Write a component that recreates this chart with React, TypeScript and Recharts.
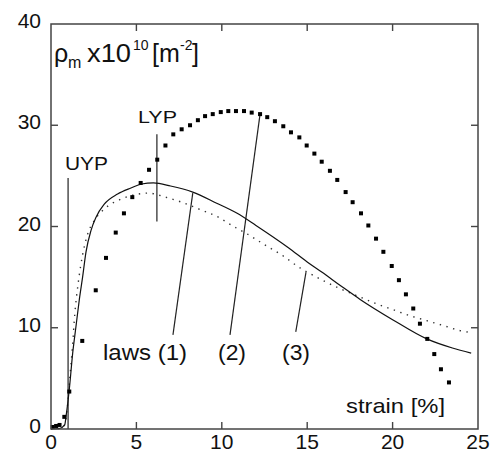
import React from 'react';
import { ComposedChart, Line, Scatter, XAxis, YAxis, ReferenceLine } from 'recharts';

// law (1): solid curve
const law1Strain = [0, 0.5, 0.8, 0.9, 1.07, 1.27, 1.46, 1.66, 1.85, 2.05, 2.34, 2.63, 3.12, 3.9, 4.68, 5.3, 6.0, 7.0, 8.3, 9.7, 10.9, 12.0, 13.9, 15.0, 15.85, 17.0, 18.1, 20.0, 22.0, 23.5, 24.6];
const law1Rho = [0, 0.05, 0.4, 1.5, 3.9, 7.5, 10.1, 12.8, 15.0, 17.5, 19.6, 20.9, 22.2, 23.2, 23.8, 24.2, 24.3, 24.0, 23.4, 22.3, 21.3, 20.1, 17.9, 16.5, 15.5, 14.1, 12.8, 10.8, 8.9, 8.0, 7.5];

// law (3): dotted curve
const law3Strain = [0, 0.5, 0.8, 0.95, 1.1, 1.25, 1.4, 1.6, 1.85, 2.1, 2.54, 3.1, 4.1, 5.1, 5.7, 6.7, 7.65, 8.7, 9.7, 10.7, 11.65, 12.5, 13.5, 14.5, 15.0, 16.0, 17.0, 18.0, 19.0, 20.0, 21.0, 22.0, 23.0, 24.0, 24.7];
const law3Rho = [0, 0.05, 0.4, 2.0, 5.0, 8.0, 11.5, 14.5, 17.2, 19.0, 20.6, 21.7, 22.7, 23.2, 23.3, 22.9, 22.4, 21.7, 21.0, 20.0, 19.1, 18.2, 17.2, 16.0, 15.5, 14.6, 13.8, 13.1, 12.4, 11.8, 11.2, 10.7, 10.2, 9.7, 9.5];

// law (2): square markers
const law2Strain = [0.1, 0.3, 0.5, 0.78, 1.07, 1.83, 2.62, 3.22, 3.79, 4.27, 4.76, 5.25, 5.74, 6.22, 6.7, 7.16, 7.65, 8.14, 8.6, 9.02, 9.47, 9.94, 10.38, 10.83, 11.3, 11.75, 12.24, 12.66, 13.11, 13.6, 14.05, 14.54, 14.97, 15.42, 15.85, 16.33, 16.76, 17.25, 17.66, 18.15, 18.58, 19.03, 19.46, 19.95, 20.37, 20.78, 21.21, 21.6, 22.03, 22.44, 22.83, 23.3];
const law2Rho = [0.2, 0.3, 0.4, 1.2, 3.7, 8.7, 13.7, 16.9, 19.4, 21.3, 22.9, 24.3, 25.6, 26.6, 28.0, 29.1, 29.6, 30.0, 30.5, 30.9, 31.1, 31.3, 31.4, 31.4, 31.4, 31.25, 31.1, 30.8, 30.4, 29.9, 29.3, 28.8, 28.0, 27.2, 26.4, 25.5, 24.6, 23.4, 22.4, 21.3, 20.1, 18.8, 17.5, 16.1, 14.7, 13.3, 11.9, 10.4, 8.9, 7.4, 5.9, 4.6];

const xTicks = [0, 5, 10, 15, 20, 25];
const yTicks = [0, 10, 20, 30, 40];
const X_MAX = 25;
const Y_MAX = 40;

// annotation lines: yield points and label leaders (strain, rho)
const uypLine = [{ x: 1.0, y: 0 }, { x: 1.0, y: 24.8 }];
const lypLine = [{ x: 6.2, y: 20.5 }, { x: 6.2, y: 29.1 }];
const leader1 = [{ x: 7.14, y: 9.3 }, { x: 8.3, y: 23.3 }];
const leader2 = [{ x: 10.48, y: 9.3 }, { x: 12.24, y: 31.1 }];
const leader3 = [{ x: 14.33, y: 9.6 }, { x: 14.93, y: 15.5 }];

const zip = (xs: number[], ys: number[]) => xs.map((x, i) => ({ x, y: ys[i] }));
const law1 = zip(law1Strain, law1Rho);
const law2 = zip(law2Strain, law2Rho);
const law3 = zip(law3Strain, law3Rho);

const FONT = '"Liberation Sans", Arial, Helvetica, sans-serif';
const INK = '#222';
const FRAME = '#444';

// chart layout
const W = 492;
const H = 453;
const MARGIN = { top: 24, right: 14, bottom: 4, left: 11 };
const Y_AXIS_W = 40;
const X_AXIS_H = 20;
const plotL = MARGIN.left + Y_AXIS_W;
const plotR = W - MARGIN.right;
const plotT = MARGIN.top;
const plotB = H - MARGIN.bottom - X_AXIS_H;
const TICK = 7;
const tickX = (v: number) => plotL + (v / X_MAX) * (plotR - plotL);
const tickY = (v: number) => plotB - (v / Y_MAX) * (plotB - plotT);

const BottomTick = (props: any) => {
  const { x, y, payload } = props;
  return (
    <text x={x} y={y + 20} textAnchor="middle" fontSize={21} fontFamily={FONT} fill="#111">
      {payload.value}
    </text>
  );
};

const LeftTick = (props: any) => {
  const { x, y, payload } = props;
  return (
    <text x={x - 10} y={y + 4} textAnchor="end" fontSize={21} fontFamily={FONT} fill="#111">
      {payload.value}
    </text>
  );
};

const SquareDot = (props: any) => {
  const { cx, cy } = props;
  return <rect x={cx - 2} y={cy - 2} width={4} height={4} fill="#000" />;
};

export default function App() {
  return (
    <div style={{ position: 'relative', width: W, height: H, background: '#fff' }}>
      <style>{'body{margin:0}'}</style>
      <ComposedChart width={W} height={H} margin={MARGIN}>
        <XAxis
          type="number"
          dataKey="x"
          domain={[0, X_MAX]}
          ticks={xTicks}
          interval={0}
          height={X_AXIS_H}
          tickSize={0}
          tickMargin={0}
          tickLine={false}
          axisLine={false}
          tick={BottomTick}
        />
        <YAxis
          type="number"
          domain={[0, Y_MAX]}
          ticks={yTicks}
          interval={0}
          width={Y_AXIS_W}
          tickSize={0}
          tickMargin={0}
          tickLine={false}
          axisLine={false}
          tick={LeftTick}
        />
        <ReferenceLine segment={uypLine} stroke={INK} strokeWidth={1.2} />
        <ReferenceLine segment={lypLine} stroke={INK} strokeWidth={1.2} />
        <ReferenceLine segment={leader1} stroke={INK} strokeWidth={1.2} />
        <ReferenceLine segment={leader2} stroke={INK} strokeWidth={1.2} />
        <ReferenceLine segment={leader3} stroke={INK} strokeWidth={1.2} />
        <Line
          data={law3}
          dataKey="y"
          type="monotone"
          dot={false}
          stroke="#333"
          strokeWidth={1.4}
          strokeDasharray="1.4 5.5"
          isAnimationActive={false}
        />
        <Line
          data={law1}
          dataKey="y"
          type="monotone"
          dot={false}
          stroke="#111"
          strokeWidth={1.2}
          isAnimationActive={false}
        />
        <Scatter data={law2} dataKey="y" shape={SquareDot} isAnimationActive={false} />
      </ComposedChart>
      <svg
        width={W}
        height={H}
        style={{ position: 'absolute', left: 0, top: 0, pointerEvents: 'none' }}
        fontFamily={FONT}
        fill="#111"
      >
        {/* box frame with inward ticks on all sides */}
        <rect
          x={plotL}
          y={plotT}
          width={plotR - plotL}
          height={plotB - plotT}
          fill="none"
          stroke={FRAME}
          strokeWidth={1.5}
        />
        {xTicks.slice(1, -1).map((t) => (
          <g key={'x' + t} stroke={FRAME} strokeWidth={1.4}>
            <line x1={tickX(t)} y1={plotB} x2={tickX(t)} y2={plotB - TICK} />
            <line x1={tickX(t)} y1={plotT} x2={tickX(t)} y2={plotT + TICK} />
          </g>
        ))}
        {yTicks.slice(1, -1).map((t) => (
          <g key={'y' + t} stroke={FRAME} strokeWidth={1.4}>
            <line x1={plotL} y1={tickY(t)} x2={plotL + TICK} y2={tickY(t)} />
            <line x1={plotR} y1={tickY(t)} x2={plotR - TICK} y2={tickY(t)} />
          </g>
        ))}
        <text y={62} fontSize={25}>
          <tspan x={54}>ρ</tspan>
          <tspan x={68} dy={6} fontSize={16}>m</tspan>
          <tspan x={87} dy={-6} textLength={44} lengthAdjust="spacingAndGlyphs">x10</tspan>
          <tspan x={133} dy={-12} fontSize={14}>10</tspan>
          <tspan x={152} dy={12}>[m</tspan>
          <tspan x={180} dy={-12} fontSize={14}>-2</tspan>
          <tspan x={192} dy={12}>]</tspan>
        </text>
        <text x={65} y={170} fontSize={18} textLength={43} lengthAdjust="spacingAndGlyphs">UYP</text>
        <text x={138} y={123} fontSize={17} textLength={39} lengthAdjust="spacingAndGlyphs">LYP</text>
        <text x={103} y={360} fontSize={22} textLength={84} lengthAdjust="spacingAndGlyphs">laws (1)</text>
        <text x={218} y={360} fontSize={22} textLength={28} lengthAdjust="spacingAndGlyphs">(2)</text>
        <text x={282} y={360} fontSize={22} textLength={28} lengthAdjust="spacingAndGlyphs">(3)</text>
        <text x={346} y={413} fontSize={21} textLength={99} lengthAdjust="spacingAndGlyphs">strain [%]</text>
      </svg>
    </div>
  );
}
